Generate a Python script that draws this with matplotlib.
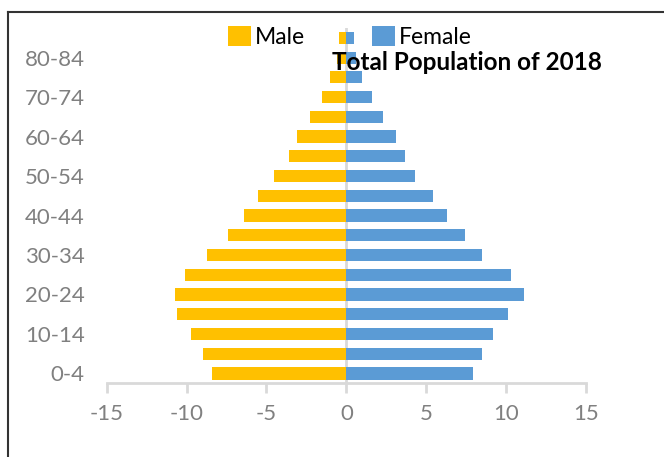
import matplotlib
matplotlib.use("Agg")
import matplotlib.pyplot as plt
from matplotlib.lines import Line2D
import numpy as np

age_groups = ["0-4", "5-9", "10-14", "15-19", "20-24", "25-29", "30-34", "35-39",
              "40-44", "45-49", "50-54", "55-59", "60-64", "65-69", "70-74",
              "75-79", "80-84", "85+"]
male = [-8.4, -9.0, -9.7, -10.6, -10.7, -10.1, -8.7, -7.4, -6.4, -5.5,
        -4.5, -3.6, -3.1, -2.3, -1.5, -1.0, -0.6, -0.45]
female = [7.9, 8.5, 9.2, 10.1, 11.1, 10.3, 8.5, 7.4, 6.3, 5.4,
          4.3, 3.7, 3.1, 2.3, 1.6, 1.0, 0.6, 0.45]
x_ticks = [-15, -10, -5, 0, 5, 10, 15]

MALE_COLOR = "#FFC000"
FEMALE_COLOR = "#5B9BD5"
TEXT_GRAY = "#808080"
AXIS_GRAY = "#D9D9D9"

plt.rcParams["font.family"] = ["Lato", "DejaVu Sans"]

fig = plt.figure(figsize=(6.64, 4.57), dpi=100)
ax = fig.add_axes([0.1607, 0.1613, 0.7218, 0.7774])

y = np.arange(len(age_groups))
ax.axvline(0, color=AXIS_GRAY, lw=2, zorder=0)
ax.barh(y, male, height=0.62, color=MALE_COLOR, label="Male", zorder=2)
ax.barh(y, female, height=0.62, color=FEMALE_COLOR, label="Female", zorder=2)

ax.set_xlim(-15, 15)
ax.set_ylim(-0.5, len(age_groups) - 0.5)
ax.set_xticks(x_ticks)
ax.set_xticklabels([str(t) for t in x_ticks])
ax.set_yticks(y[::2])
ax.set_yticklabels(age_groups[::2])

for side in ["top", "right", "left"]:
    ax.spines[side].set_visible(False)
ax.spines["bottom"].set_color(AXIS_GRAY)
ax.spines["bottom"].set_linewidth(2)

ax.tick_params(axis="x", colors=AXIS_GRAY, length=7, width=2, pad=8,
               labelcolor=TEXT_GRAY, labelsize=16)
ax.tick_params(axis="y", length=0, pad=16, labelcolor=TEXT_GRAY, labelsize=16)

fig.legend(loc="center", bbox_to_anchor=(0.527, 0.919), ncol=2, frameon=False,
           fontsize=16.5, handlelength=1.0, handleheight=1.0, handletextpad=0.2,
           columnspacing=2.9, borderpad=0)

fig.text(0.703, 0.864, "Total Population of 2018", ha="center", va="center",
         fontsize=17.5, fontweight="bold", color="black")

# outer chart frame, cut off at the right and bottom
fig.add_artist(Line2D([0.012, 0.012], [0.974, -0.1], color="#333333", lw=1.5))
fig.add_artist(Line2D([0.012, 1.1], [0.974, 0.974], color="#333333", lw=1.5))

fig.savefig("out.png", dpi=100)
